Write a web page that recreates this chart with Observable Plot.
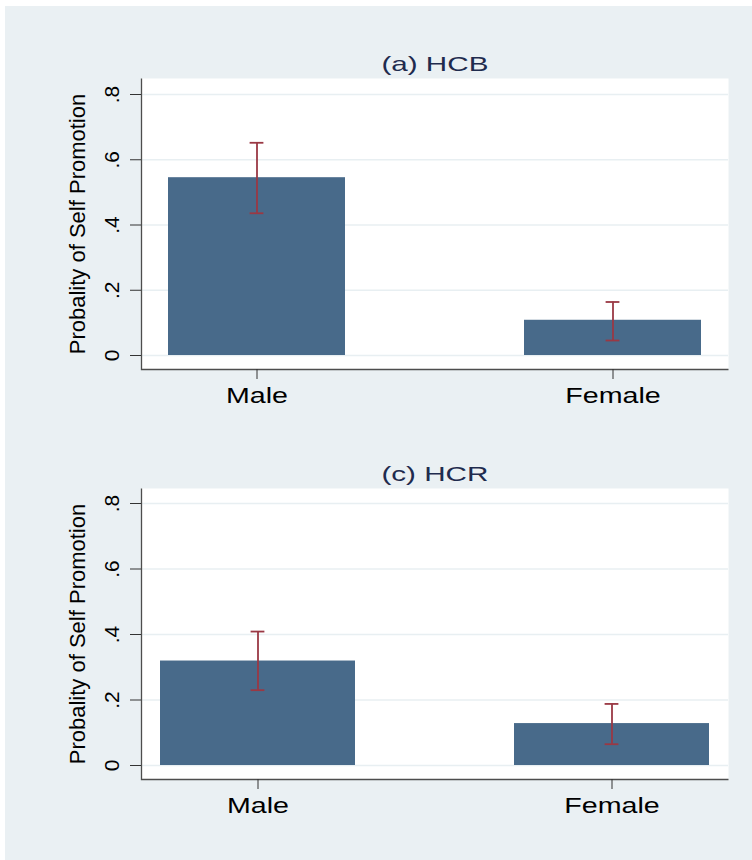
<!DOCTYPE html>
<html>
<head>
<meta charset="utf-8">
<script src="https://cdn.jsdelivr.net/npm/d3@7"></script>
<script src="https://cdn.jsdelivr.net/npm/@observablehq/plot@0.6"></script>
<style>
  body { margin: 0; background: #ffffff; }
  #bg { position: absolute; left: 5px; top: 6px; width: 747px; height: 854px; background: #eaf0f3; }
  .panel { position: absolute; left: 0; width: 752px; }
  .title { position: absolute; left: 141px; width: 587px; text-align: center;
           font-family: "Liberation Sans", Arial, sans-serif; font-size: 21px; line-height: 21px; color: #1f2b4e; }
  .title span { display: inline-block; transform: scaleX(1.41); }
</style>
</head>
<body>
<div id="bg"></div>
<div id="root"></div>
<script>
// ---- data ----
const sexes = ["Male", "Female"];
const titles = ["(a) HCB", "(c) HCR"];
const yLabel = "Probality of Self Promotion";
const yTicks = [0, 0.2, 0.4, 0.6, 0.8];
const yTickLabels = ["0", ".2", ".4", ".6", ".8"];

const hcbMean = [0.545, 0.108];
const hcbLow  = [0.436, 0.046];
const hcbHigh = [0.652, 0.164];

const hcrMean = [0.319, 0.128];
const hcrLow  = [0.230, 0.065];
const hcrHigh = [0.409, 0.188];

const root = document.getElementById("root");

function panel(top, title, means, lows, highs, padInner, padOuter, capInset, insetTop) {
  const data = sexes.map((s, i) => ({sex: s, p: means[i], lo: lows[i], hi: highs[i]}));
  const errColor = "#9a3844";
  const chart = Plot.plot({
    width: 752, height: 410,
    marginLeft: 141, marginRight: 24, marginTop: 78, marginBottom: 41,
    style: {background: "transparent", fontFamily: "Liberation Sans, Arial, sans-serif", overflow: "visible", color: "#000"},
    x: {domain: sexes, paddingInner: padInner, paddingOuter: padOuter, align: 0.5},
    y: {domain: [0, 0.8], insetTop: insetTop, insetBottom: 14},
    marks: [
      Plot.frame({fill: "white", stroke: "none"}),
      Plot.gridY(yTicks, {stroke: "#e8eff2", strokeOpacity: 1, strokeWidth: 1.5}),
      Plot.barY(data, {x: "sex", y: "p", fill: "#486a8a"}),
      Plot.ruleX(data, {x: "sex", y1: "lo", y2: "hi", stroke: errColor, strokeWidth: 1.8}),
      Plot.tickY(data, {x: "sex", y: "hi", stroke: errColor, strokeWidth: 1.8, insetLeft: capInset, insetRight: capInset}),
      Plot.tickY(data, {x: "sex", y: "lo", stroke: errColor, strokeWidth: 1.8, insetLeft: capInset, insetRight: capInset}),
      Plot.frame({fill: "none", stroke: "#4d4d4d", strokeWidth: 1.3, strokeDasharray: "0 878 878"}),
      Plot.axisX({tickSize: 10, tickPadding: 8, fontSize: 22, label: null, stroke: "#333"}),
      Plot.axisY(yTicks, {tickSize: 11, tickFormat: () => "", label: null, stroke: "#333"}),
      Plot.text(yTicks, {y: d => d, text: (d, i) => yTickLabels[i], frameAnchor: "left", textAnchor: "middle", lineAnchor: "middle", dx: -29, rotate: -90, fontSize: 21, fill: "#000"}),
      Plot.text([yLabel], {frameAnchor: "left", textAnchor: "middle", lineAnchor: "middle", dx: -64, rotate: -90, fontSize: 22, fill: "#000"})
    ]
  });
  const wrap = document.createElement("div");
  wrap.className = "panel";
  wrap.style.top = top + "px";
  wrap.appendChild(chart);
  const t = document.createElement("div");
  t.className = "title";
  t.style.top = "53px";
  const span = document.createElement("span");
  span.textContent = title;
  t.appendChild(span);
  wrap.appendChild(t);
  root.appendChild(wrap);
  for (const el of chart.querySelectorAll('g[aria-label="x-axis tick label"] text')) {
    const L = el.getComputedTextLength();
    el.setAttribute("textLength", (L * 1.3).toFixed(1));
    el.setAttribute("lengthAdjust", "spacingAndGlyphs");
  }
}

panel(0, titles[0], hcbMean, hcbLow, hcbHigh, 0.503, 0.074, 81.6, 16);
panel(410, titles[1], hcrMean, hcrLow, hcrHigh, 0.45, 0.052, 90.6, 15);
</script>
</body>
</html>
